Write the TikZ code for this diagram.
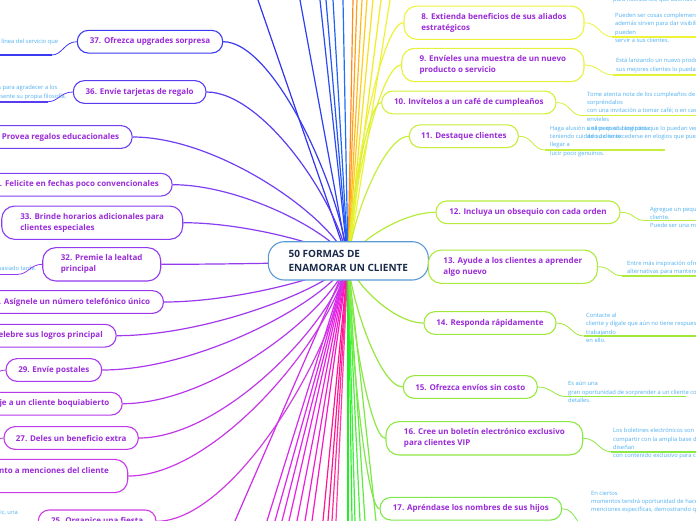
\documentclass[tikz,border=0pt]{standalone}
\usepackage{fontspec}
\setmainfont{Open Sans}
\usetikzlibrary{calc,backgrounds}
\definecolor{topictext}{HTML}{9A2BD8}
\definecolor{centertext}{HTML}{1B2B4B}
\definecolor{ccenter}{HTML}{5B9BD5}
\definecolor{desctext}{HTML}{4FB0F0}
% right side
\definecolor{c8}{HTML}{EEF33A}
\definecolor{c9}{HTML}{E6F23A}
\definecolor{c10}{HTML}{D6F03A}
\definecolor{c11}{HTML}{C6EE3A}
\definecolor{c12}{HTML}{B8EC3C}
\definecolor{c13}{HTML}{ACEA3C}
\definecolor{c14}{HTML}{A2E83C}
\definecolor{c15}{HTML}{96E83E}
\definecolor{c16}{HTML}{8CE846}
\definecolor{c17}{HTML}{80E84C}
% left side
\definecolor{c37}{HTML}{3A3AF0}
\definecolor{c36}{HTML}{5A3CF0}
\definecolor{c35}{HTML}{7040F0}
\definecolor{c34}{HTML}{8040F0}
\definecolor{c33}{HTML}{8A3CF0}
\definecolor{c32}{HTML}{923AEE}
\definecolor{c31}{HTML}{9A38EE}
\definecolor{c30}{HTML}{A238EC}
\definecolor{c29}{HTML}{AC38EC}
\definecolor{c28}{HTML}{B638EA}
\definecolor{c27}{HTML}{C038E8}
\definecolor{c26}{HTML}{C838E6}
\definecolor{c25}{HTML}{D03CE4}
% off-screen spokes
\definecolor{b1}{HTML}{3434F0}
\definecolor{b2}{HTML}{2E40F2}
\definecolor{b3}{HTML}{2A4CF2}
\definecolor{b4}{HTML}{2656F4}
\definecolor{b5}{HTML}{2262F4}
\definecolor{b6}{HTML}{1E6EF6}
\definecolor{o1}{HTML}{FF8A1E}
\definecolor{o2}{HTML}{FFA01E}
\definecolor{o3}{HTML}{FFB81E}
\definecolor{o4}{HTML}{FFCC1E}
\definecolor{y1}{HTML}{F6E21E}
\definecolor{y2}{HTML}{EEEE22}
\definecolor{y3}{HTML}{F0F430}
\definecolor{g1}{HTML}{22EE22}
\definecolor{g2}{HTML}{2CF02C}
\definecolor{g3}{HTML}{3AF03A}
\definecolor{g4}{HTML}{4CEE3C}
\definecolor{g5}{HTML}{60EC3E}
\definecolor{g6}{HTML}{78EA44}
\definecolor{m1}{HTML}{D02CEC}
\definecolor{m2}{HTML}{DA28EE}
\definecolor{m3}{HTML}{E024EE}
\definecolor{m4}{HTML}{E620EC}
\definecolor{m5}{HTML}{EC1EE6}
\definecolor{m6}{HTML}{F01CDC}
\definecolor{m7}{HTML}{F41AD0}
\definecolor{m8}{HTML}{F818C0}
\definecolor{p1}{HTML}{FF1493}
\definecolor{p2}{HTML}{FF1490}
\definecolor{p3}{HTML}{FF2A9E}
\definecolor{p4}{HTML}{FF3CA8}
\newcommand\tfont{\fontsize{8}{11}\selectfont\bfseries}
\newcommand\cfont{\fontsize{10}{14}\selectfont\bfseries}
\newcommand\dfont{\fontsize{5.8}{8.4}\selectfont}
\newcommand\dst{\rule{0pt}{5.5pt}}
\tikzset{
  topic/.style={draw=#1, line width=1.1pt, fill=white, inner sep=0pt, align=left, text=topictext, font=\tfont},
  oneline/.style={minimum height=22.7pt, rounded corners=11pt},
  twoline/.style={minimum height=33.3pt, rounded corners=13pt},
  desc/.style={inner sep=0pt, align=left, text=desctext, font=\dfont},
  spk/.style={draw=#1, line width=1.2pt},
  uline/.style={draw=#1, line width=1.6pt},
  dlink/.style={draw=#1, line width=0.8pt},
}
\newcommand\spokeTo[3]{\draw[spk=#1] let \p1=(#2), \p2=(#3) in (\p1) .. controls ({\x1+0.07*(\x2-\x1)},{\y1+0.35*(\y2-\y1)}) and ({\x1+0.6*(\x2-\x1)},{\y2}) .. (\p2);}
\begin{document}
\begin{tikzpicture}[x=1pt,y=-1pt]
\useasboundingbox (0,0) rectangle (696,520);
\coordinate (C) at (348,261);

% center
\node[draw=ccenter, line width=1.1pt, fill=white, rounded corners=16pt, minimum width=160pt, minimum height=38.3pt, align=left, text=centertext, font=\cfont, inner sep=0pt] (C0) at (348.3,260.85) {50 FORMAS DE\\ENAMORAR UN CLIENTE};

% right topics
\node[topic=c8, twoline, minimum width=180pt] (n8) at (494,22.7) {8. Extienda beneficios de sus aliados\\estratégicos};
\node[topic=c9, twoline, minimum width=182.3pt] (n9) at (492.85,65) {9. Envíeles una muestra de un nuevo\\producto o servicio};
\node[topic=c10, oneline, minimum width=174.3pt] (n10) at (468.85,102.5) {10. Invítelos a un café de cumpleaños};
\node[topic=c11, oneline, minimum width=109pt] (n11) at (463.8,136.2) {11. Destaque clientes};
\node[topic=c12, oneline, minimum width=184pt] (n12) at (528,212.3) {12. Incluya un obsequio con cada orden};
\node[topic=c13, twoline, minimum width=169pt] (n13) at (512.8,266.7) {13. Ayude a los clientes a aprender\\algo nuevo};
\node[topic=c14, oneline, minimum width=132pt] (n14) at (490,323) {14. Responda rápidamente};
\node[topic=c15, oneline, minimum width=134pt] (n15) at (470.3,387) {15. Ofrezca envíos sin costo};
\node[topic=c16, twoline, minimum width=196.7pt] (n16) at (484.35,438.3) {16. Cree un boletín electrónico exclusivo\\para clientes VIP};
\node[topic=c17, oneline, minimum width=181.7pt] (n17) at (470.85,508.7) {17. Apréndase los nombres de sus hijos};

% left topics
\node[topic=c37, oneline, minimum width=145.4pt] (n37) at (150,41.7) {37. Ofrezca upgrades sorpresa};
\node[topic=c36, oneline, minimum width=132.7pt] (n36) at (139.65,92) {36. Envíe tarjetas de regalo};
\node[topic=c35, oneline, anchor=east, inner xsep=13pt] (n35) at (132.7,137) {35. Provea regalos educacionales};
\node[topic=c34, oneline, anchor=east, inner xsep=13.4pt] (n34) at (172.7,184.7) {34. Felicite en fechas poco convencionales};
\node[topic=c33, twoline, minimum width=181pt] (n33) at (92.2,222.7) {33. Brinde horarios adicionales para\\clientes especiales};
\node[topic=c32, twoline, minimum width=118pt] (n32) at (101.7,264.3) {32. Premie la lealtad\\principal};
\node[topic=c31, oneline, anchor=east, inner xsep=13.3pt] (n31) at (164,302) {31. Asígnele un número telefónico único};
\node[topic=c30, oneline, anchor=east, inner xsep=13.4pt] (n30) at (116.7,335.7) {30. Celebre sus logros principal};
\node[topic=c29, oneline, minimum width=95.7pt] (n29) at (53.85,370) {29. Envíe postales};
\node[topic=c28, oneline, anchor=east, inner xsep=12.7pt] (n28) at (122.7,403.7) {28. Deje a un cliente boquiabierto};
\node[topic=c27, oneline, minimum width=134.3pt] (n27) at (71.15,438) {27. Deles un beneficio extra};
\node[topic=c26, twoline, anchor=east, inner xsep=19pt] (n26) at (128.3,476) {26. Esté atento a menciones del cliente\\\mbox{}};
\node[topic=c25, oneline, minimum width=117.7pt] (n25) at (97.15,521.3) {25. Organice una fiesta};

% right descriptions
\node[desc, anchor=base west] (dtop) at (613,1.6) {para fidelizarlos, que además de};
\node[desc, anchor=north west] (d8) at (615,11.75) {\dst Pueden ser cosas complementarias que\\además sirven para dar visibilidad a sus aliados\\pueden\\servir a sus clientes.};
\node[desc, anchor=north west] (d9) at (616,57.05) {\dst Está lanzando un nuevo producto? Permita que\\sus mejores clientes lo puedan probar primero.};
\node[desc, anchor=north west] (d10) at (587,90.35) {\dst Tome atenta nota de los cumpleaños de sus clientes y\\sorpréndalos\\con una invitación a tomar café; o en caso de no poder,\\envíeles};
\node[desc, anchor=north west] (d11) at (550,124.35) {\dst Haga alusión a ellos en su blog para que lo puedan ver,\\teniendo cuidado de no excederse en elogios que puedan\\llegar a\\lucir poco genuinos.};
\node[desc, anchor=north west] (d11b) at (587,124.35) {\dst una pequeña anécdota\\de su cliente};
\node[desc, anchor=north west] (d12) at (650,205.35) {\dst Agregue un pequeño detalle a cada pedido del\\cliente.\\Puede ser una muestra o una nota.};
\node[desc, anchor=north west] (d13) at (627,259.35) {\dst Entre más inspiración ofrezca, más\\alternativas para mantenerlo tendrá.};
\node[desc, anchor=north west] (d14) at (586,311.75) {\dst Contacte al\\cliente y dígale que aún no tiene respuesta, pero que está\\trabajando\\en ello.};
\node[desc, anchor=north west] (d15) at (568,380.05) {\dst Es aún una\\gran oportunidad de sorprender a un cliente con pequeños\\detalles.};
\node[desc, anchor=north west] (d16) at (613,427.05) {\dst Los boletines electrónicos son ideales para\\compartir con la amplia base de clientes, pero\\diseñan\\con contenido exclusivo para clientes VIP.};
\node[desc, anchor=north west] (d17) at (591,489.35) {\dst En ciertos\\momentos tendrá oportunidad de hacer\\menciones específicas, demostrando que};

% left descriptions
\node[desc, anchor=base east] (d37) at (58.3,43.8) {en línea del servicio que};
\node[desc, anchor=base east] (d36a) at (57.7,89.2) {clientes para agradecer a los};
\node[desc, anchor=base east] (d36b) at (66.7,98.8) {que represente su propia filosofía.};
\node[desc, anchor=base east] (d32) at (36.7,270.5) {demasiado tarde.};
\node[desc, anchor=base east] (d25) at (18,514.5) {picnic, una};

% description connectors and underlines
\coordinate (u8) at (612,36.7);
\coordinate (u9) at (613,75);
\coordinate (u10) at (582,115.5);
\coordinate (u11) at (545,150);
\coordinate (u12) at (645,220.5);
\coordinate (u13) at (622,275.7);
\coordinate (u14) at (584,336);
\coordinate (u15) at (566,396.5);
\coordinate (u16) at (611,451.7);
\coordinate (u17) at (588,528);
\foreach \k in {8,...,17}{
  \draw[dlink=c\k] (n\k.east) .. controls +(14,0) and +(-12,0) .. (u\k);
  \draw[uline=c\k] (u\k) -- ++(120,0);
}
\coordinate (u37) at (52,55);
\coordinate (u36) at (48,101.7);
\coordinate (u32) at (18,274.3);
\coordinate (u29) at (-16,382);
\coordinate (u27) at (-18,450);
\foreach \k in {37,36,32,29,27}{
  \draw[dlink=c\k] (n\k.west) .. controls +(-12,0) and +(10,0) .. (u\k);
  \draw[uline=c\k] (u\k) -- ++(-80,0);
}

\begin{scope}[on background layer]
\fill[white] (0,0) rectangle (696,520);
% spokes to off-screen topics (top)
\foreach \xt/\col [count=\i] in {258/b1,300/b2,320/b3,326/b4,333/b5,343/b6,353/o1,357/o2,362/o3,367/o4,373/y1,381/y2,390/y3}{
  \coordinate (top\i) at ({348+(\xt-348)*1.1},-26.1);
  \draw[spk=\col] (C) -- (top\i);
}
% spokes to off-screen topics (bottom)
\foreach \xb/\col [count=\i] in {235/m1,267/m2,275/m3,282/m4,289/m5,297/m6,305/m7,312/m8,323/p1,328/p2,332/p3,336/p4,348/g1,352/g2,355/g3,360/g4,365/g5,376/g6}{
  \coordinate (bot\i) at ({348+(\xb-348)*1.1},546.9);
  \draw[spk=\col] (C) -- (bot\i);
}
% spokes to visible topics
\foreach \k in {8,...,17}{ \spokeTo{c\k}{C}{n\k.west} }
\foreach \k in {25,...,37}{ \spokeTo{c\k}{C}{n\k.east} }
\end{scope}
\end{tikzpicture}
\end{document}
